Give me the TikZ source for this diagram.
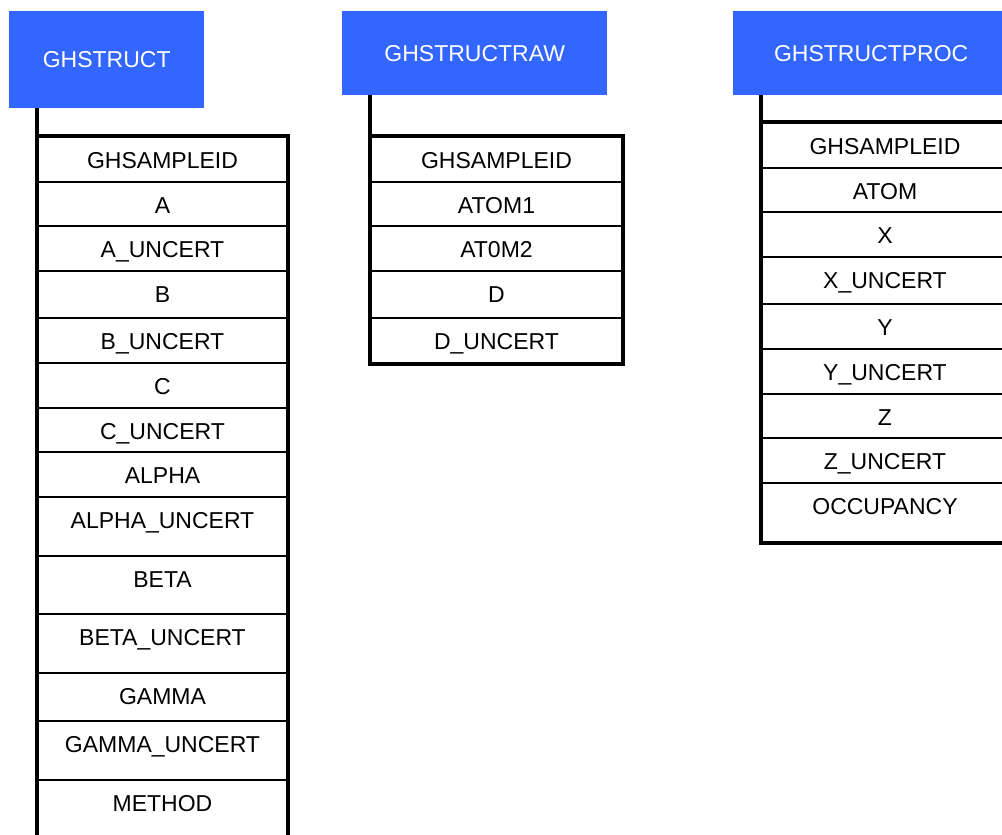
\documentclass[tikz,border=0pt]{standalone}
\usepackage{fontspec}
\setmainfont{Liberation Sans}
\definecolor{headblue}{HTML}{3366FF}
\tikzset{
  header/.style={fill=headblue, text=white, inner sep=0pt, anchor=north west,
    font=\fontsize{23}{27}\selectfont},
  field/.style={draw=black, line width=2pt, anchor=north west,
    inner xsep=0pt, inner ysep=0pt, text height=31.5pt,
    font=\fontsize{23}{27}\selectfont},
  frame/.style={line width=4.5pt, draw=black},
}
% one column of fields: #1 name prefix, #2 left x, #3 width, #4 list of key/text/top/bottom
\newcommand\fieldcolumn[4]{%
  \foreach \k/\t/\top/\bot in {#4} {%
    \pgfmathsetmacro\dep{\bot-\top-31.5}%
    \node[field, minimum width=#3pt, text depth=\dep pt] (#1\k) at (#2,\top) {\t};
  }%
}
\begin{document}
\begin{tikzpicture}[x=1pt,y=-1pt]
\useasboundingbox (0,0) rectangle (1002,835);
\clip (0,0) rectangle (1002,835);

% table headers
\node[header, minimum width=195pt, minimum height=97pt] (hS) at (9,11) {GHSTRUCT};
\node[header, minimum width=265pt, minimum height=84pt] (hR) at (342,11) {GHSTRUCTRAW};
\node[header, minimum width=276pt, minimum height=84pt] (hP) at (733,11) {GHSTRUCTPROC};

% GHSTRUCT fields
\fieldcolumn{S}{37}{249}{1/GHSAMPLEID/136/181, 2/A/181/225, 3/A\_UNCERT/225/270,
  4/B/270/317, 5/B\_UNCERT/317/362, 6/C/362/407, 7/C\_UNCERT/407/451,
  8/ALPHA/451/496, 9/ALPHA\_UNCERT/496/555, 10/BETA/555/613,
  11/BETA\_UNCERT/613/672, 12/GAMMA/672/720, 13/GAMMA\_UNCERT/720/779,
  14/METHOD/779/850}

% GHSTRUCTRAW fields
\fieldcolumn{R}{370}{251}{1/GHSAMPLEID/136/181, 2/ATOM1/181/225, 3/AT0M2/225/270,
  4/D/270/317, 5/D\_UNCERT/317/362}

% GHSTRUCTPROC fields
\fieldcolumn{P}{761}{246}{1/GHSAMPLEID/122/167, 2/ATOM/167/211, 3/X/211/256,
  4/X\_UNCERT/256/303, 5/Y/303/348, 6/Y\_UNCERT/348/393, 7/Z/393/437,
  8/Z\_UNCERT/437/482, 9/OCCUPANCY/482/541}

% heavy outlines, each joined to its header by the left rule
\draw[frame] (hS.south -| S1.north west) -- (S14.south west);
\draw[frame] (S1.north west) -- (S1.north east) -- (S14.south east);

\draw[frame] (hR.south -| R1.north west) -- (R5.south west) -- (R5.south east)
  -- (R1.north east) -- (R1.north west);

\draw[frame] (hP.south -| P1.north west) -- (P9.south west) -- (P9.south east)
  -- (P1.north east) -- (P1.north west);
\end{tikzpicture}
\end{document}
